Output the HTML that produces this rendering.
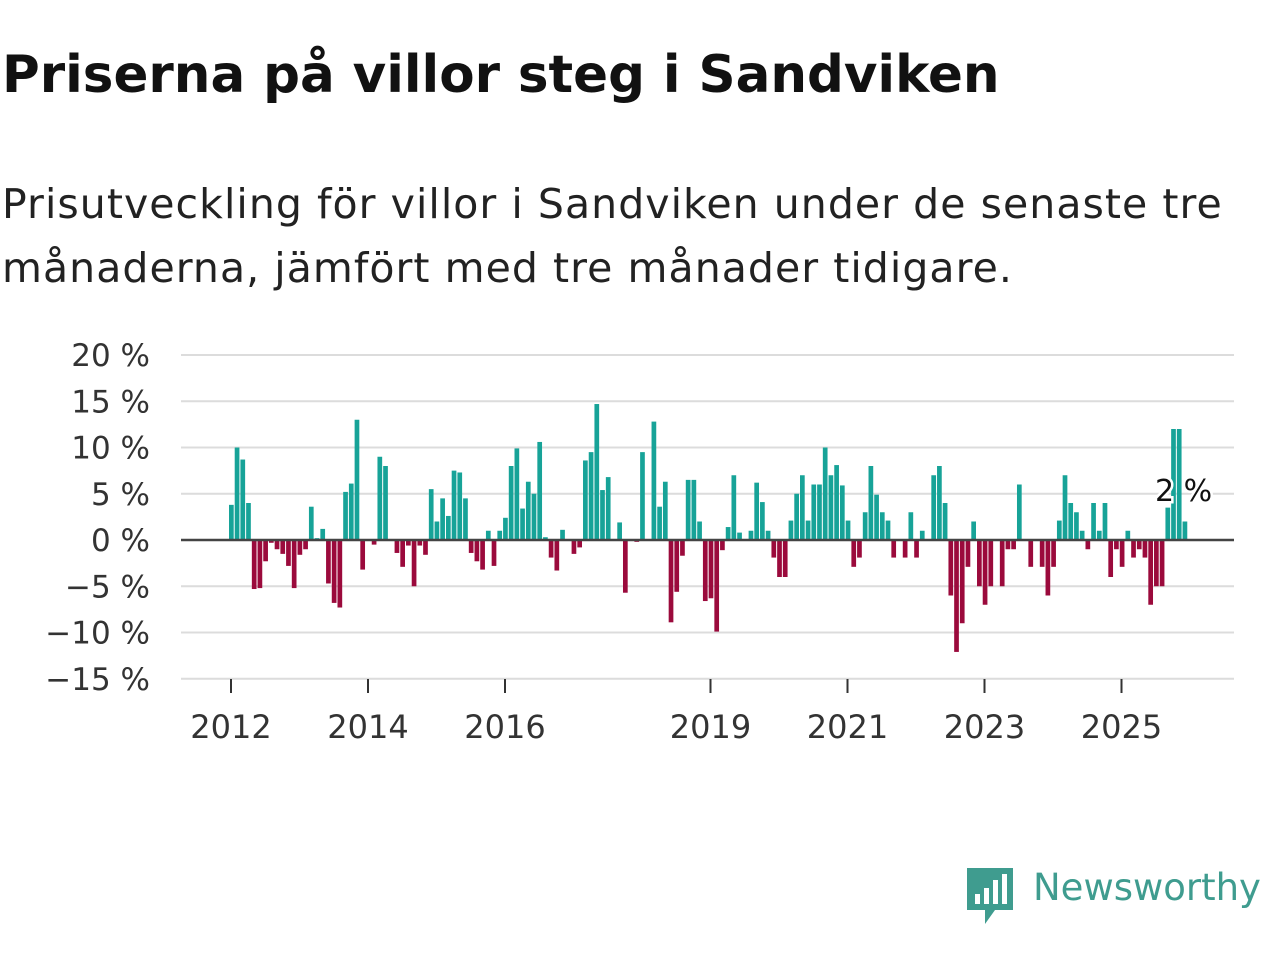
<!DOCTYPE html>
<html><head><meta charset="utf-8"><style>
body{margin:0;width:1280px;height:960px;background:#fff;font-family:"DejaVu Sans","Liberation Sans",sans-serif;overflow:hidden;position:relative}
h1{position:absolute;left:2px;top:45px;margin:0;font-size:51.5px;font-weight:bold;color:#111;white-space:nowrap}
.sub{position:absolute;left:2px;top:172px;margin:0;font-size:41px;line-height:64px;color:#222;width:1260px;letter-spacing:1.05px}
svg{position:absolute;left:0;top:0}
</style></head><body>
<h1>Priserna på villor steg i Sandviken</h1>
<p class="sub">Prisutveckling för villor i Sandviken under de senaste tre månaderna, jämfört med tre månader tidigare.</p>
<svg id="chart" width="1280" height="960"></svg>
<div style="position:absolute;left:965px;top:866px;width:315px;height:60px">
<svg width="52" height="60" style="position:absolute;left:0;top:0">
<path d="M2 2h46v42H30l-10 14v-14H2z" fill="#3f9c8f"/>
<rect x="10" y="28" width="5" height="10" fill="#fff"/><rect x="19" y="22" width="5" height="16" fill="#fff"/><rect x="28" y="14" width="5" height="24" fill="#fff"/><rect x="37" y="8" width="5" height="30" fill="#fff"/>
</svg>
<span style="position:absolute;left:68px;top:0px;font-size:37px;color:#3f9c8f">Newsworthy</span>
</div>
<script>
const values=[3.8,10,8.7,4,-5.3,-5.2,-2.3,-0.3,-1,-1.5,-2.8,-5.2,-1.6,-1,3.6,0.2,1.2,-4.7,-6.8,-7.3,5.2,6.1,13,-3.2,0,-0.5,9,8,0,-1.4,-2.9,-0.6,-5,-0.6,-1.6,5.5,2,4.5,2.6,7.5,7.3,4.5,
-1.4,-2.3,-3.2,1,-2.8,1,2.4,8,9.9,3.4,6.3,5,10.6,0.3,-1.9,-3.3,1.1,0,-1.5,-0.8,8.6,9.5,14.7,5.4,6.8,0,1.9,-5.7,0,-0.2,9.5,0,12.8,3.6,6.3,-8.9,-5.6,-1.7,6.5,6.5,2,
-6.6,-6.3,-9.9,-1.1,1.4,7,0.8,0,1,6.2,4.1,1,-1.9,-4,-4,2.1,5,7,2.1,6,6,10,7,8.1,5.9,2.1,-2.9,-1.9,3,8,4.9,3,2.1,-1.9,0,-1.9,3,-1.9,1,0,7,8,4,
-6,-12.1,-9,-2.9,2,-5,-7,-5,0,-5,-1,-1,6,0,-2.9,0,-2.9,-6,-2.9,2.1,7,4,3,1,-1,4,1,4,-4,-1,-2.9,1,-1.9,-1,-1.9,-7,-5,-5,3.5,12,12,2];
const yTicks=[20,15,10,5,0,-5,-10,-15];
const xTickYears=[2012,2014,2016,2019,2021,2023,2025];
const startYear=2012;
const lastLabel="2 %";
const NS="http://www.w3.org/2000/svg";
const FF='DejaVu Sans, Liberation Sans, sans-serif';
const svg=document.getElementById('chart');
const y=v=>540-v*9.25;
const mx=i=>229+i*5.71;
const yx=yr=>231+(yr-startYear)*68.5;
function mk(t,a){const e=document.createElementNS(NS,t);for(const k in a)e.setAttribute(k,a[k]);svg.appendChild(e);return e;}
yTicks.forEach(t=>{
 const g=mk('line',{x1:181,x2:1234,y1:y(t),y2:y(t),stroke:'#dcdcdc','stroke-width':2});
 
 
 const l=mk('text',{x:150,y:y(t)+11,'text-anchor':'end','font-size':31,fill:'#333','font-family':FF});
 l.textContent=(t<0?'\u2212'+(-t):t)+' %';
 
 
});
xTickYears.forEach(yr=>{
 const x=yx(yr);
 const tk=mk('line',{x1:x,x2:x,y1:679,y2:693,stroke:'#333','stroke-width':2});
 
 
 const l=mk('text',{x:x,y:738,'text-anchor':'middle','font-size':32,fill:'#333','font-family':FF});
 l.textContent=yr;
 
 
});
values.forEach((v,i)=>{
 if(v===0)return;
 const r=mk('rect',{x:mx(i),width:4.7,y:Math.min(y(v),540),height:Math.abs(y(v)-540),fill:v>0?'#17a398':'#9b0a3c'});
 
 
});
const z=mk('line',{x1:181,x2:1234,y1:540,y2:540,stroke:'#444','stroke-width':2.5});


const lb=mk('text',{x:1155,y:501,'font-size':30,fill:'#111',stroke:'#fff','stroke-width':5,'paint-order':'stroke','font-family':FF});
lb.textContent=lastLabel;


</script>
</body></html>
